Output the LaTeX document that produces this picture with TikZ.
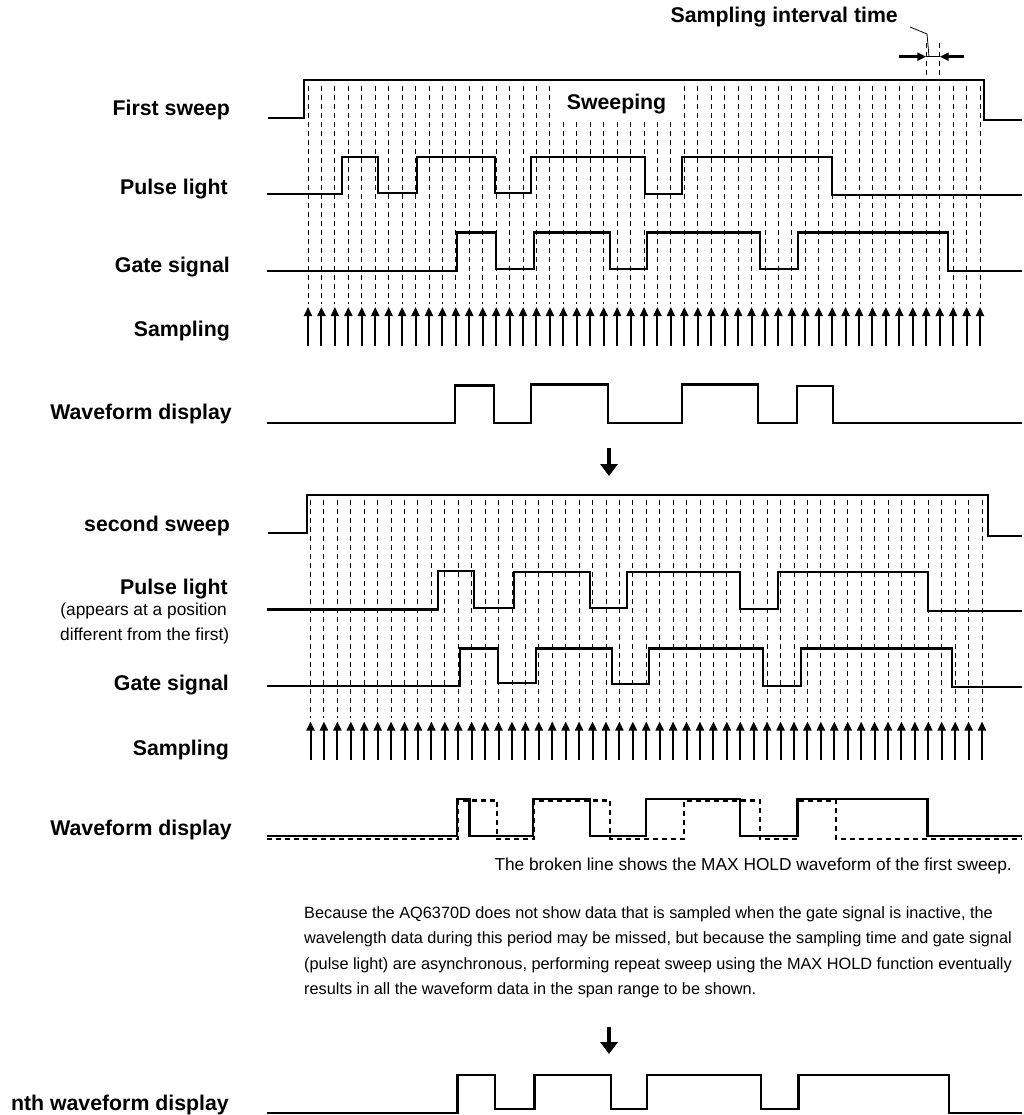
\documentclass[tikz,border=0pt]{standalone}
\usepackage{fontspec}
\setmainfont{Liberation Sans}
\usetikzlibrary{arrows.meta}
\newcommand\lblfont{\fontsize{21.3pt}{25pt}\selectfont\bfseries}
\newcommand\txtfont{\fontsize{17.3pt}{26.3pt}\selectfont}
\newcommand\parfont{\fontsize{16.3pt}{25pt}\selectfont}
\begin{document}
\begin{tikzpicture}[x=1pt,y=-1pt,
  sig/.style={line width=2.4pt, line join=miter, line cap=butt},
  mhold/.style={line width=2.4pt, line join=miter, dash pattern=on 5pt off 4pt},
  gridline/.style={line width=0.9pt, dash pattern=on 5pt off 4pt},
  samp/.style={line width=2pt, -{Triangle[length=9pt,width=8pt]}},
  harr/.style={line width=2.4pt, -{Triangle[length=9pt,width=8pt]}},
  bigarr/.style={line width=4.5pt, -{Triangle[length=12pt,width=17pt]}},
  thin/.style={line width=0.8pt},
  lbl/.style={font=\lblfont, inner sep=0pt, anchor=base east},
  sub/.style={font=\txtfont, inner sep=0pt, anchor=base east},
  para/.style={font=\parfont, inner sep=0pt, anchor=base west},
]
\useasboundingbox (0,0) rectangle (1024,1115);

% ---------------- first sweep: grid and sampling ----------------
\foreach \k in {0,...,50} {
  \draw[gridline] ({308+13.44*\k},86) -- ({308+13.44*\k},304);
  \draw[samp] ({308+13.44*\k},346) -- ({308+13.44*\k},307);
}
\draw[gridline] ({308+13.44*46},43) -- ({308+13.44*46},80);
\draw[gridline] ({308+13.44*47},43) -- ({308+13.44*47},80);

% sampling interval annotation
\node[lbl] (sit) at (898,22.7) {Sampling interval time};
\coordinate (ldA) at (910,27);
\coordinate (ldB) at (927,34);
\coordinate (ldC) at (929,56.7);
\draw[thin] (ldA) -- (ldB) -- (ldC);
\coordinate (haL) at (899,56.7);
\coordinate (haLt) at ({308+13.44*46},56.7);
\coordinate (haR) at (964,56.7);
\coordinate (haRt) at ({308+13.44*47},56.7);
\draw[harr] (haL) -- (haLt);
\draw[harr] (haR) -- (haRt);
\draw[thin] (haLt) -- (haRt);

% Sweeping label (covers grid)
\node[font=\lblfont, fill=white, inner sep=0pt, minimum height=36pt, minimum width=116pt] (swp) at (616.5,104) {Sweeping};

% signals
\draw[sig] (268,118) -- (304,118) -- (304,80) -- (984,80) -- (984,120) -- (1022,120);
\draw[sig] (267,194) -- (342,194) -- (342,157) -- (378,157) -- (378,193) -- (417,193) -- (417,157)
  -- (495,157) -- (495,193) -- (531,193) -- (531,157) -- (645,157) -- (645,194) -- (682,194)
  -- (682,157) -- (832,157) -- (832,195) -- (1022,195);
\draw[sig] (267,271) -- (457,271) -- (457,232.5) -- (496,232.5) -- (496,269) -- (534,269) -- (534,232.5)
  -- (610,232.5) -- (610,269) -- (647,269) -- (647,232.5) -- (760,232.5) -- (760,269) -- (798,269)
  -- (798,232.5) -- (948,232.5) -- (948,271) -- (1022,271);
\draw[sig] (267,423) -- (455,423) -- (455,385.5) -- (494,385.5) -- (494,423) -- (531,423) -- (531,384.5)
  -- (608,384.5) -- (608,423) -- (682,423) -- (682,384.5) -- (758,384.5) -- (758,423) -- (797,423)
  -- (797,386) -- (833,386) -- (833,423) -- (1022,423);

\node[lbl] (l1) at (230,116) {First sweep};
\node[lbl] (l2) at (228,194.3) {Pulse light};
\node[lbl] (l3) at (230,272.3) {Gate signal};
\node[lbl] (l4) at (230,336) {Sampling};
\node[lbl] (l5) at (232,419.3) {Waveform display};

\coordinate (a1s) at (609,448);
\coordinate (a1e) at (609,476);
\draw[bigarr] (a1s) -- (a1e);

% ---------------- second sweep ----------------
\foreach \k in {0,...,50} {
  \draw[gridline] ({310.5+13.43*\k},500) -- ({310.5+13.43*\k},718);
  \draw[samp] ({310.5+13.43*\k},760) -- ({310.5+13.43*\k},721.5);
}
\draw[sig] (268,533) -- (307,533) -- (307,495) -- (988,495) -- (988,536) -- (1022,536);
\draw[sig] (267,609.5) -- (438,609.5) -- (438,571) -- (474,571) -- (474,608) -- (514,608) -- (514,572)
  -- (590,572) -- (590,608) -- (627,608) -- (627,572) -- (740,572) -- (740,609) -- (778,609)
  -- (778,572) -- (928,572) -- (928,611) -- (1022,611);
\draw[sig] (267,686) -- (460,686) -- (460,648.5) -- (498,648.5) -- (498,683) -- (536,683) -- (536,648.5)
  -- (612,648.5) -- (612,684) -- (649,684) -- (649,648.5) -- (763,648.5) -- (763,686) -- (801,686)
  -- (801,648.5) -- (952,648.5) -- (952,687) -- (1022,687);
% MAX HOLD of first sweep (broken line)
\draw[mhold] (267,839) -- (458,839) -- (458,800.5) -- (497,800.5) -- (497,839) -- (534,839) -- (534,800.5)
  -- (610,800.5) -- (610,839) -- (684,839) -- (684,800.5) -- (760,800.5) -- (760,839) -- (798,839)
  -- (798,800.5) -- (836,800.5) -- (836,839) -- (1022,839);
\draw[sig] (267,836) -- (457,836) -- (457,799) -- (469.5,799) -- (469.5,836) -- (533,836) -- (533,799)
  -- (590,799) -- (590,836) -- (646,836) -- (646,799) -- (740,799) -- (740,836) -- (797.5,836)
  -- (797.5,799) -- (927.5,799) -- (927.5,836) -- (1022,836);

\node[lbl] (m1) at (230,531.7) {second sweep};
\node[lbl] (m2) at (228,594.3) {Pulse light};
\node[sub] (m2a) at (227,615.7) {(appears at a position};
\node[sub] (m2b) at (229.3,640) {different from the first)};
\node[lbl] (m3) at (229,690.7) {Gate signal};
\node[lbl] (m4) at (229,755) {Sampling};
\node[lbl] (m5) at (232,835) {Waveform display};

\node[sub] (note) at (1012,870) {The broken line shows the MAX HOLD waveform of the first sweep.};

\node[para] (p1) at (304,918) {Because the AQ6370D does not show data that is sampled when the gate signal is inactive, the};
\node[para] (p2) at (304,943.5) {wavelength data during this period may be missed, but because the sampling time and gate signal};
\node[para] (p3) at (304,969) {(pulse light) are asynchronous, performing repeat sweep using the MAX HOLD function eventually};
\node[para] (p4) at (304,994.5) {results in all the waveform data in the span range to be shown.};

\coordinate (a2s) at (609,1027);
\coordinate (a2e) at (609,1054);
\draw[bigarr] (a2s) -- (a2e);

% ---------------- nth ----------------
\draw[sig] (267,1113) -- (457.5,1113) -- (457.5,1075) -- (495,1075) -- (495,1109) -- (534.5,1109) -- (534.5,1075)
  -- (611,1075) -- (611,1109) -- (647,1109) -- (647,1075) -- (761,1075) -- (761,1109) -- (798.5,1109)
  -- (798.5,1075) -- (949,1075) -- (949,1113) -- (1022,1113);
\node[lbl] (n1) at (229,1110) {nth waveform display};
\end{tikzpicture}
\end{document}
